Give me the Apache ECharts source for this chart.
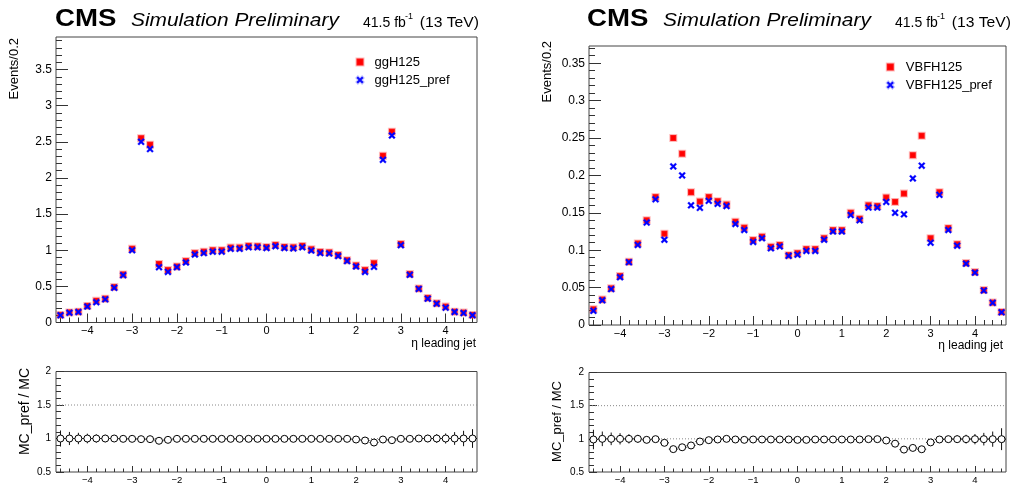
<!DOCTYPE html>
<html>
<head>
<meta charset="utf-8">
<script src="https://cdn.jsdelivr.net/npm/echarts@6/dist/echarts.min.js"></script>
<style>
  html, body { margin: 0; padding: 0; background: #fff; }
  #chart { width: 1014px; height: 485px; }
</style>
</head>
<body>
<div id="chart"></div>
<script>
// Bin centres of the leading-jet eta histograms (bin width 0.2, range -4.7 .. 4.7)
const etaCenters = [-4.6,-4.4,-4.2,-4.0,-3.8,-3.6,-3.4,-3.2,-3.0,-2.8,-2.6,-2.4,-2.2,-2.0,-1.8,-1.6,-1.4,-1.2,-1.0,-0.8,-0.6,-0.4,-0.2,
  0.0,0.2,0.4,0.6,0.8,1.0,1.2,1.4,1.6,1.8,2.0,2.2,2.4,2.6,2.8,3.0,3.2,3.4,3.6,3.8,4.0,4.2,4.4,4.6];

// ggH sample: nominal and with prefiring weight
const ggH125 = [0.105,0.14,0.15,0.23,0.30,0.33,0.49,0.665,1.02,2.55,2.46,0.81,0.725,0.775,0.85,0.96,0.98,1.0,1.0,1.037,1.037,1.06,1.055,
  1.045,1.073,1.045,1.04,1.06,1.013,0.977,0.97,0.935,0.862,0.79,0.725,0.82,2.307,2.64,1.087,0.67,0.47,0.34,0.265,0.22,0.15,0.137,0.105];
const ggH125_pref = [0.1,0.135,0.145,0.22,0.28,0.32,0.48,0.655,1.0,2.50,2.40,0.766,0.70,0.765,0.83,0.94,0.96,0.98,0.98,1.02,1.02,1.04,1.04,
  1.03,1.055,1.03,1.025,1.04,0.995,0.96,0.955,0.92,0.85,0.775,0.70,0.77,2.25,2.587,1.07,0.66,0.465,0.33,0.26,0.205,0.145,0.13,0.1];

// VBF sample: nominal and with prefiring weight
const VBFH125 = [0.021,0.034,0.049,0.0654,0.0845,0.109,0.140,0.171,0.122,0.25,0.229,0.1775,0.165,0.171,0.1655,0.161,0.138,0.130,0.1135,0.118,0.1045,0.107,0.0934,
  0.096,0.1014,0.1014,0.116,0.1268,0.1268,0.150,0.142,0.160,0.159,0.1704,0.1646,0.1757,0.227,0.253,0.116,0.1775,0.1295,0.108,0.0828,0.0707,0.0467,0.030,0.0174];
const VBFH125_pref = [0.019,0.033,0.048,0.064,0.084,0.107,0.137,0.168,0.114,0.212,0.200,0.160,0.1566,0.166,0.162,0.159,0.135,0.127,0.111,0.116,0.1025,0.105,0.0925,
  0.094,0.099,0.099,0.114,0.125,0.125,0.147,0.140,0.157,0.157,0.1646,0.150,0.148,0.196,0.213,0.110,0.174,0.127,0.106,0.082,0.070,0.046,0.0297,0.017];

// Ratio panels: MC_pref / MC and its uncertainty
const ggRatio = [1.0,1.0,1.0,1.0,1.0,1.0,1.0,0.995,0.995,0.99,0.99,0.966,0.98,
  0.995,0.995,0.995,0.995,0.995,0.995,0.995,0.995,0.995,0.995,
  0.995,
  0.995,0.995,0.995,0.995,0.995,0.995,0.995,0.995,0.995,
  0.985,0.97,0.94,0.985,0.975,
  0.995,0.995,1.0,1.0,1.0,1.0,1.0,1.0,1.0];
const ggRatioErr = [0.12,0.098,0.085,0.072,0.062,0.055,0.048,0.04,0.03,0.02,0.02,0.028,0.032,
  0.035,0.035,0.035,0.035,0.035,0.035,0.035,0.035,0.035,0.035,
  0.035,
  0.035,0.035,0.035,0.035,0.035,0.035,0.035,0.035,0.035,
  0.032,0.03,0.028,0.02,0.02,
  0.03,0.04,0.048,0.055,0.065,0.075,0.095,0.115,0.14];
const vbfRatio = [0.99,1.0,1.0,1.0,1.0,1.0,0.985,0.995,0.94,0.845,0.873,0.90,0.96,0.98,0.99,1.0,0.99,0.985,0.99,0.99,0.99,0.99,0.99,
  0.985,
  0.985,0.99,0.99,0.99,0.99,0.99,0.99,0.995,0.995,0.975,0.927,0.838,0.863,0.843,0.946,0.99,0.995,0.995,0.995,0.995,0.995,0.995,0.995];
const vbfRatioErr = [0.147,0.11,0.095,0.085,0.07,0.06,0.05,0.045,0.035,
  0.035,0.035,0.035,0.035,0.035,0.035,0.035,0.035,0.035,0.035,0.035,0.035,0.035,0.035,
  0.035,
  0.035,0.035,0.035,0.035,0.035,0.035,0.035,0.035,0.035,0.035,0.035,0.035,0.035,0.035,
  0.035,0.045,0.05,0.058,0.066,0.078,0.095,0.115,0.165];

// Axis ticks and labels
const etaMajorTicks = [-4,-3,-2,-1,0,1,2,3,4];
const etaMinorTicks = [-4.6,-4.4,-4.2,-3.8,-3.6,-3.4,-3.2,-2.8,-2.6,-2.4,-2.2,-1.8,-1.6,-1.4,-1.2,-0.8,-0.6,-0.4,-0.2,
  0.2,0.4,0.6,0.8,1.2,1.4,1.6,1.8,2.2,2.4,2.6,2.8,3.2,3.4,3.6,3.8,4.2,4.4,4.6];
const ggYMajor = [0,0.5,1,1.5,2,2.5,3,3.5];
const vbfYMajor = [0,0.05,0.1,0.15,0.2,0.25,0.3,0.35];
const ratioYMajor = [0.5,1,1.5,2];
const refLevels = [1, 1.5];

const ETA_MIN = -4.7, ETA_MAX = 4.7, BIN_HALF = 0.1;
const FONT = "'Liberation Sans', Arial, Helvetica, sans-serif";
const TICK_COLOR = '#333';

function minorBetween(min, max, step, major) {
  const out = [];
  const n = Math.round((max - min) / step);
  for (let i = 0; i <= n; i++) {
    const v = +(min + i * step).toFixed(6);
    if (!major.some(m => Math.abs(m - v) < 1e-9)) out.push(v);
  }
  return out;
}

const fmt = v => (v < 0 ? '\u2212' + Math.abs(v) : String(v));

function xAxes(grid, majorLen, minorLen, labelSize, labelMargin) {
  const base = { type: 'value', gridIndex: grid, min: ETA_MIN, max: ETA_MAX, position: 'bottom',
    axisLine: { show: false, onZero: false }, splitLine: { show: false } };
  return [
    Object.assign({}, base, {
      axisTick: { show: true, inside: true, length: majorLen, customValues: etaMajorTicks, lineStyle: { color: TICK_COLOR, width: 1 } },
      axisLabel: { show: true, customValues: etaMajorTicks, formatter: fmt, margin: labelMargin, fontSize: labelSize, fontFamily: FONT, color: '#000' }
    }),
    Object.assign({}, base, {
      axisTick: { show: true, inside: true, length: minorLen, customValues: etaMinorTicks, lineStyle: { color: TICK_COLOR, width: 1 } },
      axisLabel: { show: false }
    })
  ];
}

function yAxes(grid, min, max, major, minor, majorLen, minorLen, labelSize, labelMargin) {
  const base = { type: 'value', gridIndex: grid, min: min, max: max, position: 'left',
    axisLine: { show: false, onZero: false }, splitLine: { show: false } };
  return [
    Object.assign({}, base, {
      axisTick: { show: true, inside: true, length: majorLen, customValues: major, lineStyle: { color: TICK_COLOR, width: 1 } },
      axisLabel: { show: true, customValues: major, formatter: fmt, margin: labelMargin, fontSize: labelSize, fontFamily: FONT, color: '#000' }
    }),
    Object.assign({}, base, {
      axisTick: { show: true, inside: true, length: minorLen, customValues: minor, lineStyle: { color: TICK_COLOR, width: 1 } },
      axisLabel: { show: false }
    })
  ];
}

const xPath = 'path://M0,2 L2,0 L5,3 L8,0 L10,2 L7,5 L10,8 L8,10 L5,7 L2,10 L0,8 L3,5 Z';

const pairs = vals => etaCenters.map((x, i) => [x, vals[i]]);
const triples = (vals, errs) => etaCenters.map((x, i) => [x, vals[i], errs[i]]);

function nominalSeries(name, vals, axis) {
  return { type: 'scatter', name: name, xAxisIndex: axis, yAxisIndex: axis, data: pairs(vals),
    symbol: 'rect', symbolSize: 6, z: 3, silent: true,
    itemStyle: { color: '#ff0000', borderColor: 'rgba(255,60,60,0.35)', borderWidth: 2, opacity: 1 } };
}
function prefSeries(name, vals, axis) {
  return { type: 'scatter', name: name, xAxisIndex: axis, yAxisIndex: axis, data: pairs(vals),
    symbol: xPath, symbolSize: 7, z: 4, silent: true,
    itemStyle: { color: '#0000ff', borderColor: 'rgba(40,40,255,0.3)', borderWidth: 1, opacity: 1 } };
}
function refLineSeries(axis) {
  return { type: 'custom', xAxisIndex: axis, yAxisIndex: axis, data: refLevels.map(v => [v]), z: 1, silent: true,
    renderItem: function (params, api) {
      const v = api.value(0);
      const a = api.coord([ETA_MIN, v]), b = api.coord([ETA_MAX, v]);
      return { type: 'line', shape: { x1: a[0], y1: a[1], x2: b[0], y2: b[1] },
        style: { stroke: '#888', lineWidth: 1, lineDash: [1, 2] } };
    } };
}
function errorBarSeries(vals, errs, axis) {
  return { type: 'custom', xAxisIndex: axis, yAxisIndex: axis, data: triples(vals, errs), z: 2, silent: true,
    renderItem: function (params, api) {
      const x = api.value(0), y = api.value(1), e = api.value(2);
      const l = api.coord([x - BIN_HALF, y]), r = api.coord([x + BIN_HALF, y]);
      const t = api.coord([x, y + e]), b = api.coord([x, y - e]);
      return { type: 'group', children: [
        { type: 'line', shape: { x1: l[0], y1: l[1], x2: r[0], y2: r[1] }, style: { stroke: '#111', lineWidth: 1 } },
        { type: 'line', shape: { x1: t[0], y1: t[1], x2: b[0], y2: b[1] }, style: { stroke: '#111', lineWidth: 1 } }
      ] };
    } };
}
function ratioPoints(vals, axis) {
  return { type: 'scatter', xAxisIndex: axis, yAxisIndex: axis, data: pairs(vals), z: 3, silent: true,
    symbol: 'circle', symbolSize: 7,
    itemStyle: { color: '#fff', borderColor: '#000', borderWidth: 1, opacity: 1 } };
}

function legend(names, left, top, textPad) {
  return { orient: 'vertical', left: left, top: top, padding: 0, itemWidth: 7, itemHeight: 7, itemGap: 5,
    selectedMode: false,
    data: [{ name: names[0], icon: 'rect' }, { name: names[1], icon: xPath }],
    textStyle: { fontSize: 13, color: '#000', fontFamily: FONT, padding: [0, 0, 0, textPad] } };
}

function headerTexts(dx) {
  return [
    { type: 'text', x: 55 + dx, y: 19.3, scaleX: 1.15, style: { text: 'CMS', x: 0, y: 0, fill: '#000', font: 'bold 24px ' + FONT, verticalAlign: 'middle' } },
    { type: 'text', x: 131 + dx, y: 21, scaleX: 1.1, style: { text: 'Simulation Preliminary', x: 0, y: 0, fill: '#000', font: 'italic 19px ' + FONT, verticalAlign: 'middle' } },
    { type: 'text', x: 363 + dx, y: 22.8, style: { text: '41.5 fb', x: 0, y: 0, fill: '#000', font: '14px ' + FONT, verticalAlign: 'middle' } },
    { type: 'text', x: 405 + dx, y: 17, style: { text: '-1', x: 0, y: 0, fill: '#000', font: '9px ' + FONT, verticalAlign: 'middle' } },
    { type: 'text', x: 479 + dx, y: 22.8, scaleX: 1.12, style: { text: '(13 TeV)', x: 0, y: 0, fill: '#000', font: '14px ' + FONT, verticalAlign: 'middle', align: 'right' } }
  ];
}
function vTitle(text, x, y, size) {
  return { type: 'text', x: x, y: y, rotation: Math.PI / 2,
    style: { text: text, x: 0, y: 0, fill: '#000', font: size + 'px ' + FONT, align: 'right', verticalAlign: 'middle' } };
}
function hTitle(text, x, y, size) {
  return { type: 'text', x: x, y: y,
    style: { text: text, x: 0, y: 0, fill: '#000', font: size + 'px ' + FONT, align: 'right', verticalAlign: 'middle' } };
}

const frame = { show: true, borderColor: '#444', borderWidth: 1, backgroundColor: 'transparent' };

const option = {
  animation: false,
  backgroundColor: '#fff',
  grid: [
    Object.assign({ left: 56, right: 537, top: 37, bottom: 162.5 }, frame),
    Object.assign({ left: 589, right: 8, top: 46, bottom: 160 }, frame),
    Object.assign({ left: 56, right: 537, top: 371.5, bottom: 11.5 }, frame),
    Object.assign({ left: 589, right: 8, top: 372.5, bottom: 11.5 }, frame)
  ],
  xAxis: [].concat(
    xAxes(0, 9, 5, 11, 3),
    xAxes(1, 9, 5, 11, 3),
    xAxes(2, 6, 3.5, 9.5, 3),
    xAxes(3, 6, 3.5, 9.5, 3)
  ),
  yAxis: [].concat(
    yAxes(0, 0, 3.95, ggYMajor, minorBetween(0, 3.9, 0.1, ggYMajor), 12, 6, 12, 4),
    yAxes(1, 0, 0.373, vbfYMajor, minorBetween(0, 0.37, 0.01, vbfYMajor), 12, 6, 12, 4),
    yAxes(2, 0.5, 2, ratioYMajor, minorBetween(0.5, 2, 0.1, ratioYMajor), 8, 5, 10, 5),
    yAxes(3, 0.5, 2, ratioYMajor, minorBetween(0.5, 2, 0.1, ratioYMajor), 8, 5, 10, 5)
  ),
  legend: [
    legend(['ggH125', 'ggH125_pref'], 355.5, 55.5, 6),
    legend(['VBFH125', 'VBFH125_pref'], 885.8, 60.5, 7)
  ],
  series: [
    nominalSeries('ggH125', ggH125, 0),
    prefSeries('ggH125_pref', ggH125_pref, 0),
    nominalSeries('VBFH125', VBFH125, 2),
    prefSeries('VBFH125_pref', VBFH125_pref, 2),
    refLineSeries(4),
    errorBarSeries(ggRatio, ggRatioErr, 4),
    ratioPoints(ggRatio, 4),
    refLineSeries(6),
    errorBarSeries(vbfRatio, vbfRatioErr, 6),
    ratioPoints(vbfRatio, 6)
  ],
  graphic: [].concat(
    headerTexts(0),
    headerTexts(532),
    [
      vTitle('Events/0.2', 14, 38, 13),
      vTitle('Events/0.2', 547, 41, 13),
      vTitle('MC_pref / MC', 25, 368, 14),
      vTitle('MC_pref / MC', 557, 381, 13),
      hTitle('\u03B7 leading jet', 476, 344, 12),
      hTitle('\u03B7 leading jet', 1003, 346, 12)
    ]
  )
};

const chart = echarts.init(document.getElementById('chart'), null, { renderer: 'canvas' });
chart.setOption(option);
</script>
</body>
</html>
